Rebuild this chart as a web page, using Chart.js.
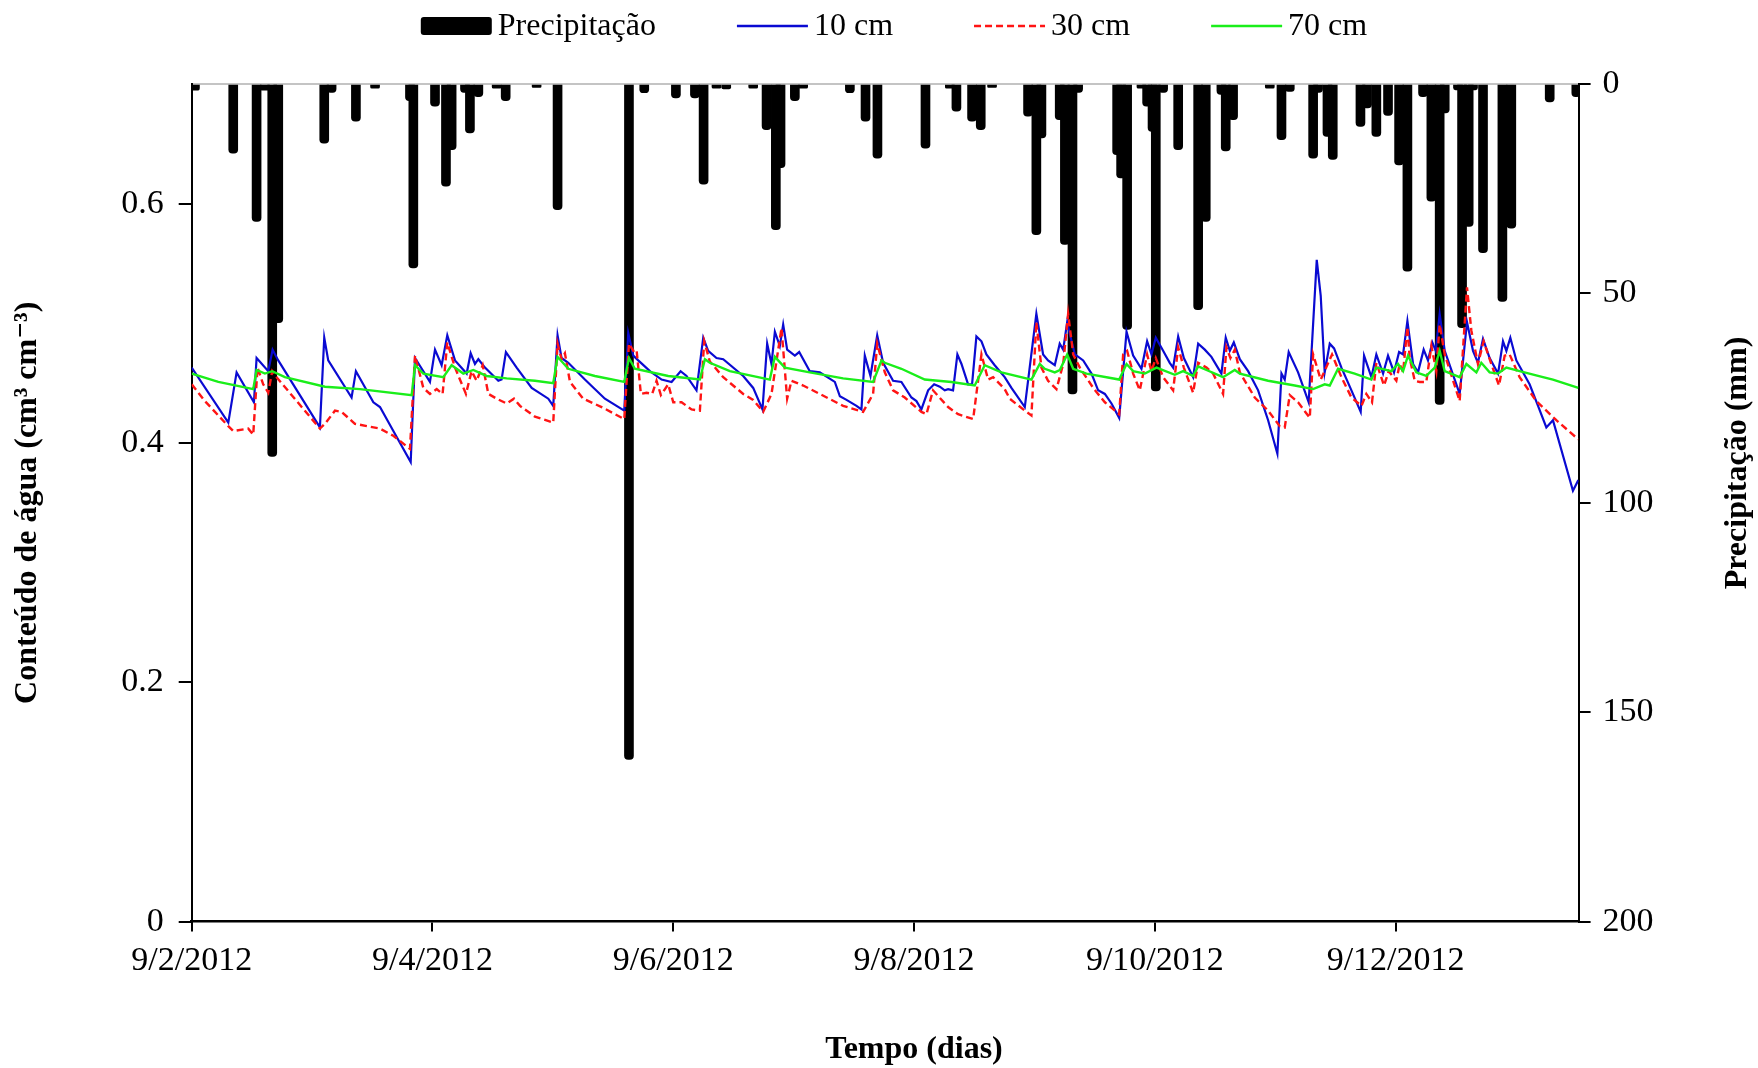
<!DOCTYPE html>
<html lang="pt-BR">
  <head>
    <meta charset="utf-8" />
    <title>Conteúdo de água e precipitação</title>
    <script src="https://cdn.jsdelivr.net/npm/chart.js@4.4.0/dist/chart.umd.min.js"></script>
    <style>
      html,
      body {
        margin: 0;
        padding: 0;
        background: #fff;
      }
      #wrap {
        width: 1758px;
        height: 1068px;
        position: relative;
      }
    </style>
  </head>
  <body>
    <div id="wrap"><canvas id="grafico"></canvas></div>

    <script>
      // ---------------- Dados -----------------------------------------------
      // eixo x: 2 = 9/2/2012, 4 = 9/4/2012 ... (espaçamento igual)
      const posicoesX = [2, 4, 6, 8, 10, 12];
      const rotulosX = ["9/2/2012", "9/4/2012", "9/6/2012", "9/8/2012", "9/10/2012", "9/12/2012"];

      // precipitação [tempo, mm]
      const precipitacao = [
        [2.027, 1.5], [2.345, 16.5], [2.539, 32.8], [2.608, 1.5], [2.669, 88.9], [2.719, 57],
        [3.101, 14.1], [3.162, 2], [3.364, 8.9], [3.523, 1], [3.813, 4], [3.841, 43.9],
        [4.021, 5.3], [4.112, 24.4], [4.159, 15.7], [4.27, 2], [4.311, 11.7], [4.381, 3],
        [4.533, 1], [4.608, 4], [4.865, 0.8], [5.039, 30], [5.632, 161.3], [5.759, 2.1],
        [6.022, 3.3], [6.18, 3.3], [6.252, 23.9], [6.359, 1], [6.44, 1.2], [6.664, 1],
        [6.775, 10.9], [6.852, 34.8], [6.891, 20], [7.01, 4], [7.079, 1], [7.467, 2.1],
        [7.597, 8.9], [7.696, 17.7], [8.095, 15.3], [8.297, 1], [8.352, 6.5], [8.482, 8.9],
        [8.554, 10.9], [8.648, 0.8], [8.947, 7.7], [9.016, 36], [9.058, 12.9], [9.21, 8.5],
        [9.253, 38.3], [9.316, 74], [9.363, 2], [9.687, 16.9], [9.72, 22.4], [9.77, 58.6],
        [9.889, 1], [9.936, 5.3], [9.981, 11.3], [10.008, 73.3], [10.069, 2], [10.194, 15.7],
        [10.36, 53.9], [10.423, 32.8], [10.553, 2.5], [10.589, 16], [10.65, 8.5], [10.955, 1],
        [11.052, 13.3], [11.121, 1.8], [11.315, 17.7], [11.356, 2], [11.434, 12.5], [11.478, 18],
        [11.708, 10.1], [11.763, 5.7], [11.84, 12.5], [11.937, 7.5], [12.029, 19.3], [12.098, 44.7],
        [12.228, 3], [12.297, 28], [12.366, 76.5], [12.408, 6.9], [12.518, 1.4], [12.552, 58.2],
        [12.607, 34], [12.643, 1.4], [12.726, 40.3], [12.887, 51.9], [12.961, 34.4], [13.28, 4.3],
        [13.501, 3]
      ];

      // conteúdo de água a 10 cm [tempo, cm3 cm-3]
      const agua10cm = [
        [2.0, 0.463], [2.304, 0.417], [2.373, 0.459], [2.517, 0.434], [2.539, 0.471], [2.636, 0.46],
        [2.672, 0.478], [2.719, 0.469], [3.065, 0.413], [3.101, 0.488], [3.134, 0.469], [3.328, 0.438],
        [3.364, 0.46], [3.509, 0.434], [3.564, 0.43], [3.675, 0.41], [3.819, 0.384], [3.855, 0.471],
        [3.979, 0.451], [4.021, 0.478], [4.076, 0.465], [4.123, 0.49], [4.187, 0.469], [4.284, 0.458],
        [4.317, 0.475], [4.353, 0.466], [4.381, 0.47], [4.436, 0.463], [4.547, 0.452], [4.574, 0.453],
        [4.61, 0.476], [4.699, 0.463], [4.824, 0.446], [4.962, 0.437], [5.003, 0.431], [5.039, 0.49],
        [5.072, 0.471], [5.128, 0.467], [5.266, 0.453], [5.432, 0.437], [5.593, 0.427], [5.626, 0.492],
        [5.668, 0.473], [5.709, 0.469], [5.806, 0.46], [5.903, 0.453], [5.986, 0.451], [6.061, 0.46],
        [6.11, 0.456], [6.193, 0.444], [6.249, 0.488], [6.29, 0.477], [6.359, 0.471], [6.415, 0.47],
        [6.581, 0.456], [6.664, 0.446], [6.741, 0.428], [6.78, 0.483], [6.816, 0.466], [6.844, 0.493],
        [6.885, 0.481], [6.913, 0.499], [6.946, 0.478], [7.01, 0.473], [7.046, 0.476], [7.134, 0.46],
        [7.217, 0.459], [7.342, 0.451], [7.384, 0.439], [7.439, 0.436], [7.522, 0.431], [7.563, 0.428],
        [7.591, 0.473], [7.638, 0.456], [7.694, 0.49], [7.743, 0.467], [7.826, 0.452], [7.895, 0.451],
        [7.978, 0.438], [8.02, 0.435], [8.061, 0.428], [8.117, 0.444], [8.167, 0.449], [8.214, 0.447],
        [8.255, 0.444], [8.283, 0.445], [8.324, 0.444], [8.36, 0.474], [8.394, 0.466], [8.449, 0.449],
        [8.482, 0.449], [8.518, 0.489], [8.56, 0.485], [8.601, 0.474], [8.67, 0.465], [8.753, 0.455],
        [8.809, 0.446], [8.92, 0.43], [9.016, 0.508], [9.072, 0.474], [9.113, 0.469], [9.169, 0.465],
        [9.21, 0.483], [9.239, 0.478], [9.272, 0.501], [9.294, 0.491], [9.336, 0.474], [9.405, 0.469],
        [9.474, 0.458], [9.529, 0.444], [9.585, 0.441], [9.64, 0.433], [9.704, 0.421], [9.765, 0.493],
        [9.82, 0.473], [9.889, 0.462], [9.936, 0.485], [9.972, 0.474], [10.008, 0.488], [10.069, 0.477],
        [10.124, 0.467], [10.152, 0.463], [10.194, 0.489], [10.241, 0.471], [10.318, 0.455], [10.36, 0.483],
        [10.415, 0.478], [10.47, 0.472], [10.553, 0.458], [10.589, 0.488], [10.623, 0.477], [10.656, 0.484],
        [10.706, 0.47], [10.775, 0.46], [10.858, 0.444], [10.941, 0.419], [11.018, 0.391], [11.052, 0.458],
        [11.079, 0.453], [11.112, 0.476], [11.19, 0.459], [11.278, 0.434], [11.345, 0.553], [11.378, 0.523],
        [11.411, 0.459], [11.453, 0.483], [11.489, 0.479], [11.55, 0.463], [11.633, 0.444], [11.71, 0.426],
        [11.738, 0.473], [11.799, 0.455], [11.84, 0.474], [11.896, 0.458], [11.937, 0.473], [11.987, 0.459],
        [12.029, 0.476], [12.062, 0.474], [12.098, 0.502], [12.145, 0.466], [12.186, 0.459], [12.233, 0.478],
        [12.269, 0.469], [12.305, 0.484], [12.333, 0.477], [12.366, 0.508], [12.408, 0.477], [12.532, 0.441],
        [12.593, 0.501], [12.643, 0.477], [12.684, 0.467], [12.726, 0.487], [12.781, 0.471], [12.851, 0.458],
        [12.892, 0.485], [12.92, 0.477], [12.953, 0.488], [13.003, 0.469], [13.113, 0.449], [13.183, 0.431],
        [13.252, 0.413], [13.307, 0.419], [13.473, 0.36], [13.518, 0.369]
      ];

      // conteúdo de água a 30 cm
      const agua30cm = [
        [2.0, 0.449], [2.11, 0.435], [2.304, 0.414], [2.345, 0.41], [2.47, 0.412], [2.511, 0.407],
        [2.547, 0.463], [2.594, 0.449], [2.636, 0.442], [2.669, 0.46], [2.705, 0.455], [3.065, 0.412],
        [3.107, 0.416], [3.19, 0.427], [3.245, 0.426], [3.356, 0.416], [3.564, 0.412], [3.675, 0.406],
        [3.813, 0.395], [3.855, 0.473], [3.924, 0.446], [3.979, 0.441], [4.035, 0.445], [4.084, 0.441],
        [4.123, 0.484], [4.187, 0.463], [4.278, 0.441], [4.325, 0.46], [4.367, 0.452], [4.417, 0.465],
        [4.464, 0.441], [4.533, 0.437], [4.616, 0.433], [4.677, 0.437], [4.727, 0.431], [4.851, 0.422],
        [5.003, 0.417], [5.039, 0.483], [5.072, 0.47], [5.1, 0.475], [5.142, 0.451], [5.252, 0.437],
        [5.405, 0.43], [5.593, 0.42], [5.632, 0.483], [5.668, 0.477], [5.695, 0.478], [5.731, 0.441],
        [5.778, 0.442], [5.825, 0.441], [5.861, 0.452], [5.897, 0.44], [5.958, 0.449], [6.0, 0.434],
        [6.069, 0.434], [6.152, 0.428], [6.221, 0.427], [6.257, 0.485], [6.304, 0.468], [6.415, 0.455],
        [6.581, 0.441], [6.664, 0.436], [6.747, 0.426], [6.816, 0.441], [6.899, 0.496], [6.946, 0.437],
        [6.982, 0.452], [7.079, 0.448], [7.217, 0.441], [7.411, 0.431], [7.577, 0.426], [7.66, 0.441],
        [7.694, 0.483], [7.757, 0.459], [7.826, 0.444], [7.923, 0.438], [8.061, 0.426], [8.103, 0.424],
        [8.158, 0.444], [8.283, 0.43], [8.366, 0.424], [8.491, 0.42], [8.56, 0.474], [8.615, 0.453],
        [8.657, 0.455], [8.753, 0.445], [8.795, 0.437], [8.92, 0.427], [8.975, 0.423], [9.016, 0.501],
        [9.058, 0.463], [9.113, 0.452], [9.183, 0.445], [9.239, 0.466], [9.28, 0.508], [9.322, 0.474],
        [9.377, 0.463], [9.488, 0.446], [9.585, 0.434], [9.704, 0.424], [9.737, 0.474], [9.77, 0.477],
        [9.82, 0.458], [9.875, 0.444], [9.936, 0.474], [9.972, 0.46], [10.008, 0.471], [10.069, 0.455],
        [10.152, 0.444], [10.194, 0.48], [10.241, 0.463], [10.318, 0.442], [10.36, 0.467], [10.429, 0.463],
        [10.484, 0.458], [10.567, 0.441], [10.595, 0.48], [10.628, 0.471], [10.664, 0.478], [10.706, 0.459],
        [10.83, 0.438], [10.941, 0.427], [11.038, 0.414], [11.079, 0.413], [11.121, 0.44], [11.19, 0.434],
        [11.287, 0.421], [11.315, 0.474], [11.378, 0.453], [11.472, 0.474], [11.55, 0.455], [11.633, 0.438],
        [11.716, 0.431], [11.757, 0.441], [11.804, 0.434], [11.84, 0.467], [11.904, 0.448], [11.943, 0.46],
        [12.006, 0.452], [12.034, 0.466], [12.062, 0.459], [12.098, 0.497], [12.117, 0.471], [12.159, 0.452],
        [12.2, 0.451], [12.255, 0.451], [12.297, 0.481], [12.338, 0.46], [12.366, 0.499], [12.408, 0.474],
        [12.532, 0.435], [12.593, 0.53], [12.629, 0.494], [12.684, 0.466], [12.731, 0.485], [12.795, 0.466],
        [12.859, 0.448], [12.906, 0.473], [12.947, 0.474], [13.03, 0.455], [13.169, 0.435], [13.335, 0.419],
        [13.518, 0.403]
      ];

      // conteúdo de água a 70 cm
      const agua70cm = [
        [2.0, 0.458], [2.221, 0.451], [2.511, 0.445], [2.539, 0.461], [2.608, 0.458], [2.669, 0.46],
        [2.774, 0.455], [3.107, 0.447], [3.398, 0.445], [3.827, 0.44], [3.855, 0.465], [3.924, 0.458],
        [4.09, 0.455], [4.159, 0.465], [4.256, 0.458], [4.339, 0.461], [4.45, 0.456], [4.616, 0.454],
        [4.851, 0.452], [5.003, 0.45], [5.039, 0.472], [5.128, 0.462], [5.349, 0.456], [5.593, 0.451],
        [5.632, 0.471], [5.681, 0.462], [5.958, 0.456], [6.221, 0.453], [6.263, 0.47], [6.304, 0.467],
        [6.47, 0.46], [6.802, 0.453], [6.844, 0.472], [6.927, 0.463], [7.134, 0.459], [7.411, 0.454],
        [7.66, 0.451], [7.73, 0.469], [7.757, 0.467], [7.895, 0.462], [8.089, 0.453], [8.311, 0.451],
        [8.504, 0.448], [8.587, 0.465], [8.726, 0.459], [8.975, 0.453], [9.044, 0.466], [9.086, 0.462],
        [9.169, 0.459], [9.211, 0.461], [9.272, 0.474], [9.322, 0.462], [9.432, 0.458], [9.704, 0.453],
        [9.765, 0.466], [9.82, 0.46], [9.917, 0.458], [10.014, 0.463], [10.166, 0.457], [10.235, 0.46],
        [10.318, 0.456], [10.36, 0.464], [10.429, 0.461], [10.567, 0.455], [10.664, 0.461], [10.706, 0.458],
        [10.941, 0.452], [11.162, 0.448], [11.315, 0.445], [11.411, 0.449], [11.453, 0.448], [11.522, 0.462],
        [11.66, 0.458], [11.799, 0.453], [11.84, 0.463], [11.965, 0.46], [12.02, 0.466], [12.062, 0.46],
        [12.103, 0.473], [12.172, 0.459], [12.255, 0.456], [12.325, 0.463], [12.366, 0.477], [12.408, 0.46],
        [12.532, 0.455], [12.588, 0.466], [12.671, 0.459], [12.712, 0.467], [12.781, 0.459], [12.851, 0.458],
        [12.92, 0.463], [13.03, 0.46], [13.224, 0.455], [13.307, 0.453], [13.518, 0.446]
      ];

      // ---------------- Aparência ------------------------------------------
      const SERIF = '"Liberation Serif", "Times New Roman", "DejaVu Serif", serif';
      const pontos = (arr) => arr.map(([x, y]) => ({ x, y }));

      // legenda no topo + títulos que o Chart.js não posiciona como no original
      const extras = {
        id: "extras",
        afterDraw(chart) {
          const ctx = chart.ctx;
          ctx.save();
          ctx.fillStyle = "#000";
          ctx.strokeStyle = "#000";

          // legenda
          ctx.font = "32px " + SERIF;
          ctx.textBaseline = "middle";
          ctx.textAlign = "left";
          const amostra = 71, folga = 6, entre = 81, yLeg = 26;
          const sets = chart.data.datasets;
          const larguras = sets.map((d) => ctx.measureText(d.label).width);
          const total =
            larguras.reduce((a, b) => a + b, 0) + sets.length * (amostra + folga) + (sets.length - 1) * entre;
          let x = 894 - total / 2;
          sets.forEach((d, i) => {
            if (d.type === "bar") {
              ctx.fillStyle = "#000";
              ctx.beginPath();
              ctx.roundRect(x, yLeg - 9, amostra, 18, 3);
              ctx.fill();
            } else {
              ctx.save();
              ctx.strokeStyle = d.borderColor;
              ctx.lineWidth = 2.5;
              ctx.setLineDash(d.borderDash || []);
              ctx.beginPath();
              ctx.moveTo(x, yLeg);
              ctx.lineTo(x + amostra, yLeg);
              ctx.stroke();
              ctx.restore();
            }
            ctx.fillStyle = "#000";
            ctx.fillText(d.label, x + amostra + folga, yLeg + 1);
            x += amostra + folga + larguras[i] + entre;
          });

          // título do eixo x
          ctx.font = "bold 32px " + SERIF;
          ctx.textAlign = "center";
          ctx.fillText("Tempo (dias)", 914, 1050);

          // título do eixo direito (lido de baixo para cima)
          ctx.translate(1738, 463);
          ctx.rotate(-Math.PI / 2);
          ctx.fillText("Precipitação (mm)", 0, 0);
          ctx.restore();
        },
      };

      const fonteTick = { family: SERIF, size: 34 };

      new Chart(document.getElementById("grafico"), {
        type: "line",
        data: {
          datasets: [
            {
              type: "bar",
              label: "Precipitação",
              data: pontos(precipitacao),
              yAxisID: "y2",
              backgroundColor: "#000",
              barThickness: 9,
              borderRadius: 4,
              borderSkipped: "start",
              order: 4,
            },
            {
              label: "10 cm",
              data: pontos(agua10cm),
              yAxisID: "y",
              borderColor: "#0a0ad2",
              borderWidth: 2.2,
              pointRadius: 0,
              tension: 0,
              fill: false,
              order: 3,
            },
            {
              label: "30 cm",
              data: pontos(agua30cm),
              yAxisID: "y",
              borderColor: "#ff1414",
              borderWidth: 2.4,
              borderDash: [7, 4],
              pointRadius: 0,
              tension: 0,
              fill: false,
              order: 2,
            },
            {
              label: "70 cm",
              data: pontos(agua70cm),
              yAxisID: "y",
              borderColor: "#1aee1a",
              borderWidth: 2.4,
              pointRadius: 0,
              tension: 0,
              fill: false,
              order: 1,
            },
          ],
        },
        options: {
          responsive: true,
          maintainAspectRatio: false,
          animation: false,
          layout: { padding: { top: 84, left: 0, right: 0, bottom: 0 } },
          plugins: { legend: { display: false }, tooltip: { enabled: false } },
          scales: {
            x: {
              type: "linear",
              position: "bottom",
              min: 2,
              max: 13.52,
              offset: false,
              ticks: {
                stepSize: 2,
                includeBounds: false,
                autoSkip: false,
                maxRotation: 0,
                padding: 9,
                color: "#000",
                font: fonteTick,
                callback: (v) => {
                  const i = posicoesX.indexOf(v);
                  return i >= 0 ? rotulosX[i] : "";
                },
              },
              grid: { offset: false, drawOnChartArea: false, tickLength: 10, color: "#000", lineWidth: 2 },
              border: { color: "#000", width: 2.5 },
              afterFit: (s) => {
                s.height = 146.4;
              },
            },
            xTopo: {
              type: "linear",
              position: "top",
              min: 2,
              max: 13.52,
              ticks: { display: false },
              grid: { display: false, drawTicks: false },
              border: { display: true, color: "#c4c4c4", width: 2 },
            },
            y: {
              position: "left",
              min: 0,
              max: 0.7,
              ticks: { stepSize: 0.2, includeBounds: false, padding: 15, color: "#000", font: fonteTick },
              grid: { drawOnChartArea: false, tickLength: 13, color: "#000", lineWidth: 2 },
              border: { color: "#000", width: 2 },
              title: {
                display: true,
                text: "Conteúdo de água (cm³ cm⁻³)",
                color: "#000",
                font: { family: SERIF, size: 32, weight: "bold" },
                padding: { top: 9, bottom: 0 },
              },
              afterFit: (s) => {
                s.width = 191.7;
              },
            },
            y2: {
              position: "right",
              reverse: true,
              min: 0,
              max: 200,
              ticks: { stepSize: 50, includeBounds: false, padding: 12, color: "#000", font: fonteTick },
              grid: { drawOnChartArea: false, tickLength: 12, color: "#000", lineWidth: 2 },
              border: { color: "#000", width: 2 },
              afterFit: (s) => {
                s.width = 179.4;
              },
            },
          },
        },
        plugins: [extras],
      });
    </script>
  </body>
</html>
